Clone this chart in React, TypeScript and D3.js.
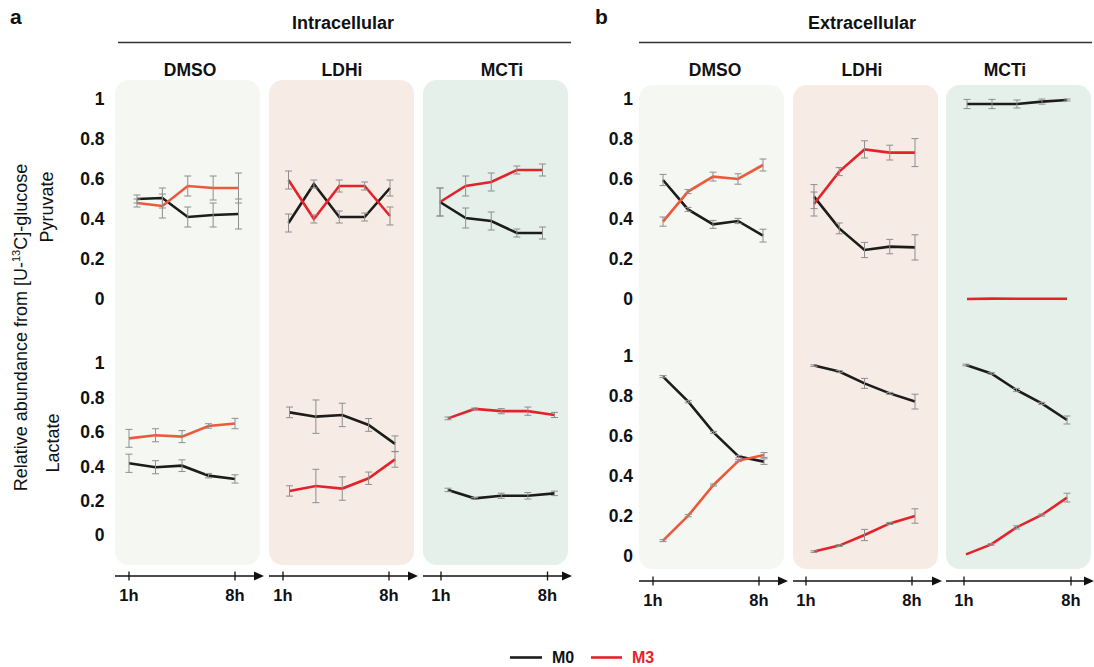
import React from "react";
import * as d3 from "d3";

// 5 time points per condition, labelled 1h ... 8h on the axis
const conditions = ["DMSO", "LDHi", "MCTi"];
const timeIdx = [0, 1, 2, 3, 4];
const timeTicks = [0, 4];
const timeTickLabels = ["1h", "8h"];
const yTicks = [0, 0.2, 0.4, 0.6, 0.8, 1];

// Intracellular, rows = DMSO, LDHi, MCTi
const intraPyruvateM0 = [
  [0.5, 0.505, 0.41, 0.42, 0.425],
  [0.38, 0.575, 0.41, 0.41, 0.555],
  [0.485, 0.405, 0.39, 0.33, 0.33],
];
const intraPyruvateM0Err = [
  [0.02, 0.05, 0.05, 0.06, 0.075],
  [0.045, 0.02, 0.03, 0.02, 0.04],
  [0.07, 0.05, 0.045, 0.02, 0.03],
];
const intraPyruvateM3 = [
  [0.48, 0.465, 0.565, 0.555, 0.555],
  [0.595, 0.4, 0.565, 0.565, 0.415],
  [0.485, 0.565, 0.585, 0.645, 0.645],
];
const intraPyruvateM3Err = [
  [0.02, 0.06, 0.05, 0.06, 0.075],
  [0.045, 0.02, 0.03, 0.02, 0.045],
  [0.07, 0.05, 0.045, 0.02, 0.03],
];
const intraLactateM0 = [
  [0.417, 0.394, 0.403, 0.345, 0.326],
  [0.713, 0.688, 0.698, 0.64, 0.53],
  [0.262, 0.213, 0.228, 0.228, 0.242],
];
const intraLactateM0Err = [
  [0.053, 0.038, 0.034, 0.013, 0.024],
  [0.031, 0.097, 0.068, 0.037, 0.046],
  [0.01, 0.005, 0.015, 0.019, 0.013],
];
const intraLactateM3 = [
  [0.562, 0.58, 0.572, 0.634, 0.648],
  [0.256, 0.285, 0.27, 0.33, 0.44],
  [0.678, 0.733, 0.72, 0.72, 0.698],
];
const intraLactateM3Err = [
  [0.052, 0.038, 0.035, 0.013, 0.03],
  [0.03, 0.097, 0.068, 0.036, 0.046],
  [0.008, 0.005, 0.015, 0.024, 0.015],
];

// Extracellular
const extraPyruvateM0 = [
  [0.595, 0.448, 0.373, 0.39, 0.317],
  [0.512, 0.353, 0.245, 0.262, 0.258],
  [0.975, 0.975, 0.975, 0.987, 0.995],
];
const extraPyruvateM0Err = [
  [0.028, 0.01, 0.02, 0.013, 0.032],
  [0.06, 0.027, 0.038, 0.036, 0.063],
  [0.023, 0.023, 0.02, 0.013, 0.005],
];
const extraPyruvateM3 = [
  [0.387, 0.537, 0.612, 0.6, 0.67],
  [0.475, 0.637, 0.748, 0.732, 0.732],
  [0.0, 0.002, 0.001, 0.001, 0.001],
];
const extraPyruvateM3Err = [
  [0.023, 0.01, 0.022, 0.026, 0.03],
  [0.06, 0.02, 0.043, 0.037, 0.07],
  [0, 0, 0, 0, 0],
];
const extraLactateM0 = [
  [0.897, 0.772, 0.618, 0.497, 0.472],
  [0.952, 0.922, 0.863, 0.813, 0.772],
  [0.955, 0.913, 0.83, 0.763, 0.68],
];
const extraLactateM0Err = [
  [0.005, 0.006, 0.005, 0.006, 0.014],
  [0.004, 0.005, 0.025, 0.005, 0.037],
  [0.004, 0.004, 0.008, 0.005, 0.02],
];
const extraLactateM3 = [
  [0.077, 0.202, 0.355, 0.477, 0.505],
  [0.022, 0.052, 0.105, 0.163, 0.2],
  [0.008, 0.058, 0.143, 0.205, 0.292],
];
const extraLactateM3Err = [
  [0.005, 0.006, 0.005, 0.005, 0.012],
  [0.004, 0.004, 0.028, 0.005, 0.036],
  [0.003, 0.004, 0.008, 0.005, 0.022],
];

const W = 1094;
const H = 667;
const FONT = "'Liberation Sans', Arial, Helvetica, sans-serif";
const M0_COLOR = "#1c1c1a";
const M3_COLORS = ["#ec5a3c", "#e3232a", "#e3232a"];
const ERR_COLOR = "#8e8e8e";
const PANEL_FILLS = ["#f5f7f2", "#f7ebe5", "#e5f0eb"];

const groups = [
  {
    letter: "a",
    letterX: 10,
    title: "Intracellular",
    titleX: 343,
    rule: [118, 571],
    panelX: [115, 269, 423],
    subX: [190, 342, 502],
    panelW: 145,
    panelTop: 80,
    panelBottom: 565,
    tickOff: [[14, 120], [14, 120], [18, 124.5]],
    tickLabelX: 104.5,
    axisY: 576,
    rows: [
      {
        name: "Pyruvate", y0: 299, y1: 99, labelX: 53, labelY: 207,
        off: [[22, 123.5], [19.5, 121], [17, 119.5]],
        m0: intraPyruvateM0, m0e: intraPyruvateM0Err, m3: intraPyruvateM3, m3e: intraPyruvateM3Err,
      },
      {
        name: "Lactate", y0: 535, y1: 363, labelX: 59, labelY: 443,
        off: [[14, 120], [20.5, 126], [25, 131.5]],
        m0: intraLactateM0, m0e: intraLactateM0Err, m3: intraLactateM3, m3e: intraLactateM3Err,
      },
    ],
    rowLabels: true,
  },
  {
    letter: "b",
    letterX: 595,
    title: "Extracellular",
    titleX: 862,
    rule: [639, 1092],
    panelX: [639, 793, 946],
    subX: [715, 862, 1005],
    panelW: 145,
    panelTop: 85,
    panelBottom: 569,
    tickOff: [[14, 120], [13, 119], [18, 125]],
    tickLabelX: 633,
    axisY: 581,
    rows: [
      {
        name: "Pyruvate", y0: 299, y1: 99,
        off: [[24, 124], [21, 122], [21, 121]],
        m0: extraPyruvateM0, m0e: extraPyruvateM0Err, m3: extraPyruvateM3, m3e: extraPyruvateM3Err,
      },
      {
        name: "Lactate", y0: 556, y1: 356,
        off: [[24, 125], [21, 122], [20, 121]],
        m0: extraLactateM0, m0e: extraLactateM0Err, m3: extraLactateM3, m3e: extraLactateM3Err,
      },
    ],
    rowLabels: false,
  },
];

function ErrorBars({ x, y, vals, errs }) {
  return (
    <g stroke={ERR_COLOR} strokeWidth={1}>
      {vals.map((v, i) => {
        const e = errs[i];
        if (e < 0.004) return null;
        const cx = x(timeIdx[i]);
        return (
          <g key={i}>
            <line x1={cx} x2={cx} y1={y(v - e)} y2={y(v + e)} />
            <line x1={cx - 3.5} x2={cx + 3.5} y1={y(v - e)} y2={y(v - e)} />
            <line x1={cx - 3.5} x2={cx + 3.5} y1={y(v + e)} y2={y(v + e)} />
          </g>
        );
      })}
    </g>
  );
}

function Group({ g }) {
  const line = d3.line();
  return (
    <g>
      <text x={g.letterX} y={24} fontSize={21} fontWeight="bold">{g.letter}</text>
      <text x={g.titleX} y={29} fontSize={18} fontWeight="bold" textAnchor="middle">{g.title}</text>
      <line x1={g.rule[0]} x2={g.rule[1]} y1={42.5} y2={42.5} stroke="#333" strokeWidth={1.3} />

      {conditions.map((c, ci) => {
        const px = g.panelX[ci];
        return (
          <g key={c}>
            <rect x={px} y={g.panelTop} width={g.panelW} height={g.panelBottom - g.panelTop} rx={14} fill={PANEL_FILLS[ci]} />
            <text x={g.subX[ci]} y={76} fontSize={17.5} fontWeight="bold" textAnchor="middle">{c}</text>
          </g>
        );
      })}

      {g.rows.map((row) => {
        const y = d3.scaleLinear().domain([0, 1]).range([row.y0, row.y1]);
        return (
          <g key={row.name}>
            {yTicks.map((t) => (
              <text key={t} x={g.tickLabelX} y={y(t)} dy="0.36em" fontSize={17.5} fontWeight="bold" textAnchor="end">
                {d3.format("~g")(t)}
              </text>
            ))}
            {conditions.map((c, ci) => {
              const px = g.panelX[ci];
              const x = d3.scaleLinear().domain([0, 4]).range([px + row.off[ci][0], px + row.off[ci][1]]);
              const m0Pts = timeIdx.map((t) => [x(t), y(row.m0[ci][t])]);
              const m3Pts = timeIdx.map((t) => [x(t), y(row.m3[ci][t])]);
              return (
                <g key={c}>
                  <path d={line(m0Pts)} fill="none" stroke={M0_COLOR} strokeWidth={2.6} />
                  <path d={line(m3Pts)} fill="none" stroke={M3_COLORS[ci]} strokeWidth={2.6} />
                  <ErrorBars x={x} y={y} vals={row.m0[ci]} errs={row.m0e[ci]} />
                  <ErrorBars x={x} y={y} vals={row.m3[ci]} errs={row.m3e[ci]} />
                </g>
              );
            })}
          </g>
        );
      })}

      {conditions.map((c, ci) => {
        const px = g.panelX[ci];
        const x = d3.scaleLinear().domain([0, 4]).range([px + g.tickOff[ci][0], px + g.tickOff[ci][1]]);
        const end = Math.min(px + 149, W);
        return (
          <g key={c}>
            <line x1={px} x2={end - 6} y1={g.axisY} y2={g.axisY} stroke="#111" strokeWidth={1.3} />
            <path d={`M${end - 10},${g.axisY - 4.5} L${end},${g.axisY} L${end - 10},${g.axisY + 4.5} Z`} fill="#111" />
            {timeTicks.map((t, ti) => (
              <g key={t}>
                <line x1={x(t)} x2={x(t)} y1={g.axisY - 4.5} y2={g.axisY + 4.5} stroke="#111" strokeWidth={1.3} />
                <text x={x(t)} y={g.axisY + 24.5} fontSize={16.5} fontWeight="bold" textAnchor="middle">
                  {timeTickLabels[ti]}
                </text>
              </g>
            ))}
          </g>
        );
      })}

      {g.rowLabels &&
        g.rows.map((row) => (
          <text
            key={row.name}
            transform={`translate(${row.labelX},${row.labelY}) rotate(-90)`}
            fontSize={18}
            textAnchor="middle"
          >
            {row.name}
          </text>
        ))}
    </g>
  );
}

export default function App() {
  return (
    <svg
      width={W}
      height={H}
      style={{ position: "absolute", left: 0, top: 0, background: "#fff" }}
      fontFamily={FONT}
      fill="#111"
    >
      {groups.map((g) => (
        <Group key={g.letter} g={g} />
      ))}

      <text transform="translate(27,327.5) rotate(-90)" fontSize={18} textAnchor="middle">
        Relative abundance from [U-<tspan fontSize={11} dy={-7}>13</tspan>
        <tspan dy={7}>C]-glucose</tspan>
      </text>

      <line x1={510} x2={542} y1={657.5} y2={657.5} stroke={M0_COLOR} strokeWidth={2.6} />
      <text x={552} y={663} fontSize={16} fontWeight="bold">M0</text>
      <line x1={591} x2={622} y1={657.5} y2={657.5} stroke={M3_COLORS[1]} strokeWidth={2.6} />
      <text x={632} y={663} fontSize={16} fontWeight="bold" fill={M3_COLORS[1]}>M3</text>
    </svg>
  );
}
